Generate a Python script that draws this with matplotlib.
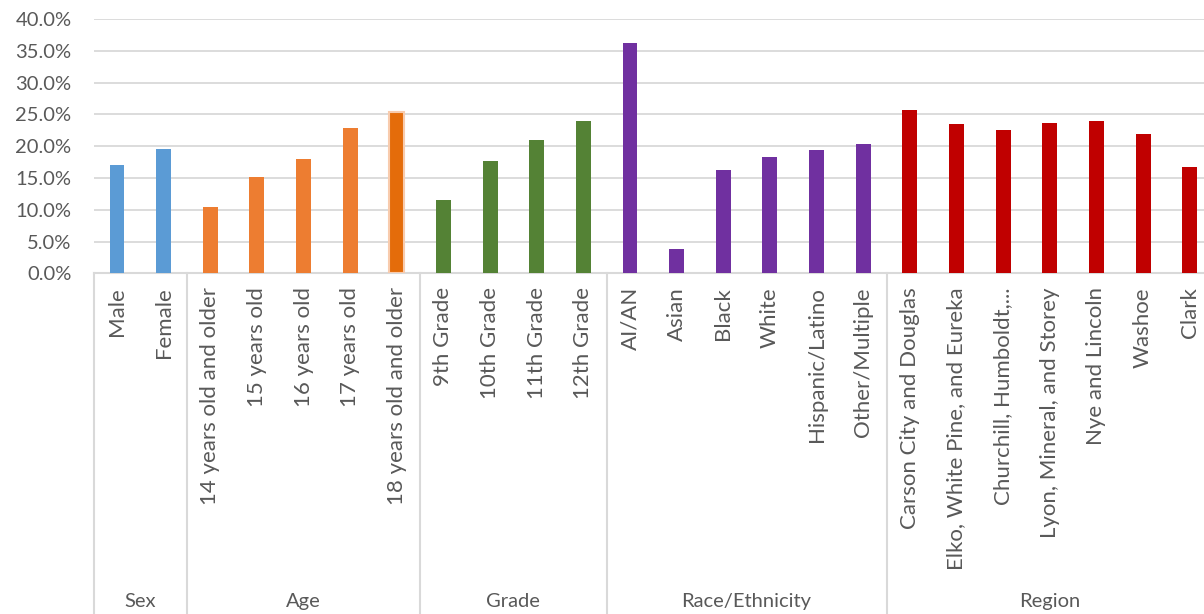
import numpy as np
import matplotlib.pyplot as plt
import matplotlib.transforms as mtransforms

plt.rcParams['font.family'] = ['Lato', 'DejaVu Sans']

# data
groups = ['Sex', 'Age', 'Grade', 'Race/Ethnicity', 'Region']
group_sizes = [2, 5, 4, 6, 7]
labels = ['Male', 'Female',
          '14 years old and older', '15 years old', '16 years old', '17 years old', '18 years old and older',
          '9th Grade', '10th Grade', '11th Grade', '12th Grade',
          'AI/AN', 'Asian', 'Black', 'White', 'Hispanic/Latino', 'Other/Multiple',
          'Carson City and Douglas', 'Elko, White Pine, and Eureka', 'Churchill, Humboldt,...',
          'Lyon, Mineral, and Storey', 'Nye and Lincoln', 'Washoe', 'Clark']
values = [17.1, 19.6,
          10.4, 15.2, 18.0, 22.9, 25.3,
          11.6, 17.7, 21.0, 24.0,
          36.3, 3.8, 16.3, 18.3, 19.4, 20.4,
          25.7, 23.5, 22.6, 23.7, 24.0, 21.9, 16.7]
group_colors = ['#5B9BD5', '#ED7D31', '#548235', '#7030A0', '#C00000']

colors = []
for c, n in zip(group_colors, group_sizes):
    colors += [c] * n

fig = plt.figure(figsize=(12.04, 6.14), dpi=100)
ax = fig.add_axes([93.7/1204, 1-273.3/614, (1213-93.7)/1204, 254.3/614])

x = np.arange(len(labels))
bars = ax.bar(x, values, width=0.32, color=colors, zorder=3)
# highlighted bar (18 years old and older)
bars[6].set_facecolor('#E46C0A')
bars[6].set_edgecolor('#F8CBAD')
bars[6].set_linewidth(1.5)

ax.set_xlim(-0.5, len(labels) - 0.5)
ax.set_ylim(0, 40)
ax.set_yticks(np.arange(0, 40.1, 5))
ax.set_yticklabels(['%.1f%%' % v for v in np.arange(0, 40.1, 5)])
ax.yaxis.grid(True, color='#D9D9D9', linewidth=1.3, zorder=0)
ax.set_axisbelow(True)

for s in ['top', 'right', 'left']:
    ax.spines[s].set_visible(False)
ax.spines['bottom'].set_color('#D9D9D9')
ax.spines['bottom'].set_linewidth(1.5)

ax.set_xticks(x)
ax.set_xticklabels(labels, rotation=90, fontsize=16, color='#595959')
ax.tick_params(axis='x', length=0, pad=10)
ax.tick_params(axis='y', length=0, pad=16, labelsize=14.5, labelcolor='#595959')

# group separators and group labels
trans = mtransforms.blended_transform_factory(ax.transData, ax.transAxes)
y_bottom = -(614 - 273.3) / 254.3
y_label = -(602 - 273.3) / 254.3
edges = np.concatenate([[0], np.cumsum(group_sizes)]) - 0.5
for e in edges[:-1]:
    ax.plot([e, e], [0, y_bottom], transform=trans, color='#D9D9D9',
            linewidth=1.5, clip_on=False)
for g, a, b in zip(groups, edges[:-1], edges[1:]):
    ax.text((a + b) / 2, y_label, g, transform=trans, ha='center', va='center',
            fontsize=14.5, color='#595959')

fig.savefig('out.png', dpi=100)
